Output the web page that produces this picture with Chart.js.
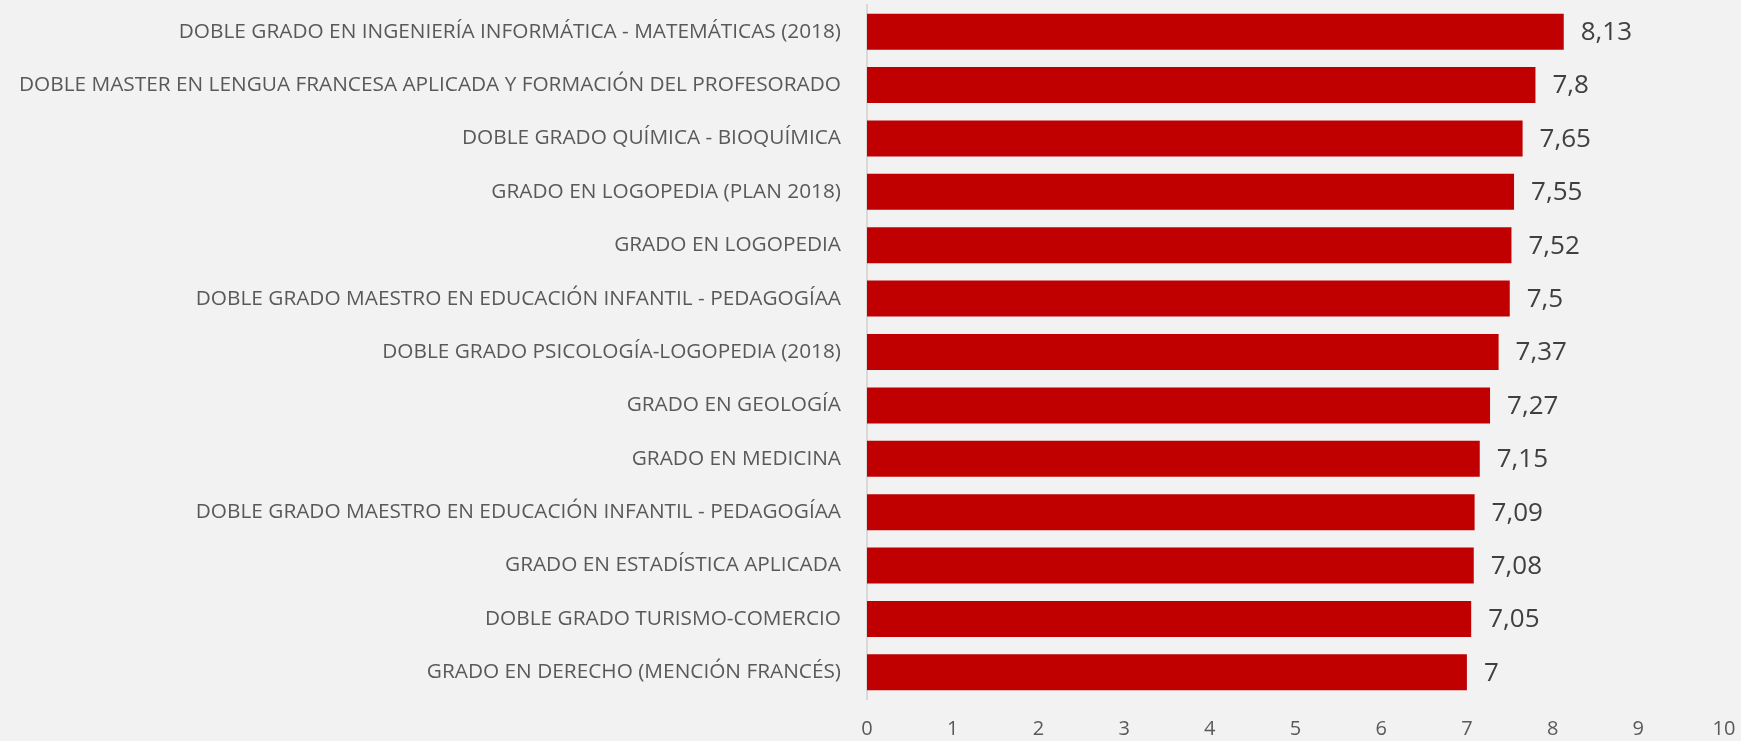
<!DOCTYPE html>
<html>
<head>
<meta charset="utf-8">
<script src="https://cdn.jsdelivr.net/npm/chart.js@4"></script>
<style>
  html, body { margin: 0; padding: 0; background: #f2f2f2; }
  #wrap { width: 1741px; height: 741px; }
</style>
</head>
<body>
<div id="wrap"><canvas id="chart"></canvas></div>
<script>
// titulaciones y notas medias
const categorias = [
  'DOBLE GRADO EN INGENIERÍA INFORMÁTICA - MATEMÁTICAS (2018)',
  'DOBLE MASTER EN LENGUA FRANCESA APLICADA Y FORMACIÓN DEL PROFESORADO',
  'DOBLE GRADO QUÍMICA - BIOQUÍMICA',
  'GRADO EN LOGOPEDIA (PLAN 2018)',
  'GRADO EN LOGOPEDIA',
  'DOBLE GRADO MAESTRO EN EDUCACIÓN INFANTIL - PEDAGOGÍAA',
  'DOBLE GRADO PSICOLOGÍA-LOGOPEDIA (2018)',
  'GRADO EN GEOLOGÍA',
  'GRADO EN MEDICINA',
  'DOBLE GRADO MAESTRO EN EDUCACIÓN INFANTIL - PEDAGOGÍAA',
  'GRADO EN ESTADÍSTICA APLICADA',
  'DOBLE GRADO TURISMO-COMERCIO',
  'GRADO EN DERECHO (MENCIÓN FRANCÉS)'
];
const notas = [8.13, 7.8, 7.65, 7.55, 7.52, 7.5, 7.37, 7.27, 7.15, 7.09, 7.08, 7.05, 7];
const ticksX = [0, 1, 2, 3, 4, 5, 6, 7, 8, 9, 10];

const FONT = "'Open Sans', 'DejaVu Sans', sans-serif";

// fondo gris
const fondo = {
  id: 'fondo',
  beforeDraw(chart) {
    const c = chart.ctx;
    c.save();
    c.fillStyle = '#f2f2f2';
    c.fillRect(0, 0, chart.width, chart.height);
    c.restore();
  }
};

// etiquetas de valor al final de cada barra
const etiquetas = {
  id: 'etiquetas',
  afterDatasetsDraw(chart) {
    const c = chart.ctx;
    const meta = chart.getDatasetMeta(0);
    c.save();
    c.font = `26px ${FONT}`;
    c.fillStyle = '#404040';
    c.textAlign = 'left';
    c.textBaseline = 'middle';
    meta.data.forEach((bar, i) => {
      const txt = String(notas[i]).replace('.', ',');
      c.fillText(txt, bar.x + 17, bar.y + 1);
    });
    c.restore();
  }
};

new Chart(document.getElementById('chart'), {
  type: 'bar',
  data: {
    labels: categorias,
    datasets: [{
      data: notas,
      backgroundColor: '#c00000',
      borderWidth: 0,
      barPercentage: 0.674,
      categoryPercentage: 1
    }]
  },
  options: {
    indexAxis: 'y',
    responsive: true, maintainAspectRatio: false,
    animation: false,
    layout: { padding: { top: 5, right: 17, bottom: 0, left: 0 } },
    plugins: { legend: { display: false }, tooltip: { enabled: false } },
    scales: {
      x: {
        min: 0, max: 10,
        afterBuildTicks: s => { s.ticks = ticksX.map(v => ({ value: v })); },
        ticks: { color: '#595959', font: { family: FONT, size: 20 }, padding: 18, maxRotation: 0 },
        grid: { display: false, drawTicks: false },
        border: { display: false },
        afterFit: s => { s.height = 42; s.paddingLeft = 0; s.paddingRight = 0; }
      },
      y: {
        ticks: { color: '#595959', font: { family: FONT, size: 20.8 }, padding: 26, autoSkip: false },
        grid: { display: false, drawTicks: false },
        border: { display: true, color: '#d9d9d9', width: 2 },
        afterFit: s => { s.width = 867; s.paddingTop = 0; s.paddingBottom = 0; }
      }
    }
  },
  plugins: [fondo, etiquetas]
});
</script>
</body>
</html>
